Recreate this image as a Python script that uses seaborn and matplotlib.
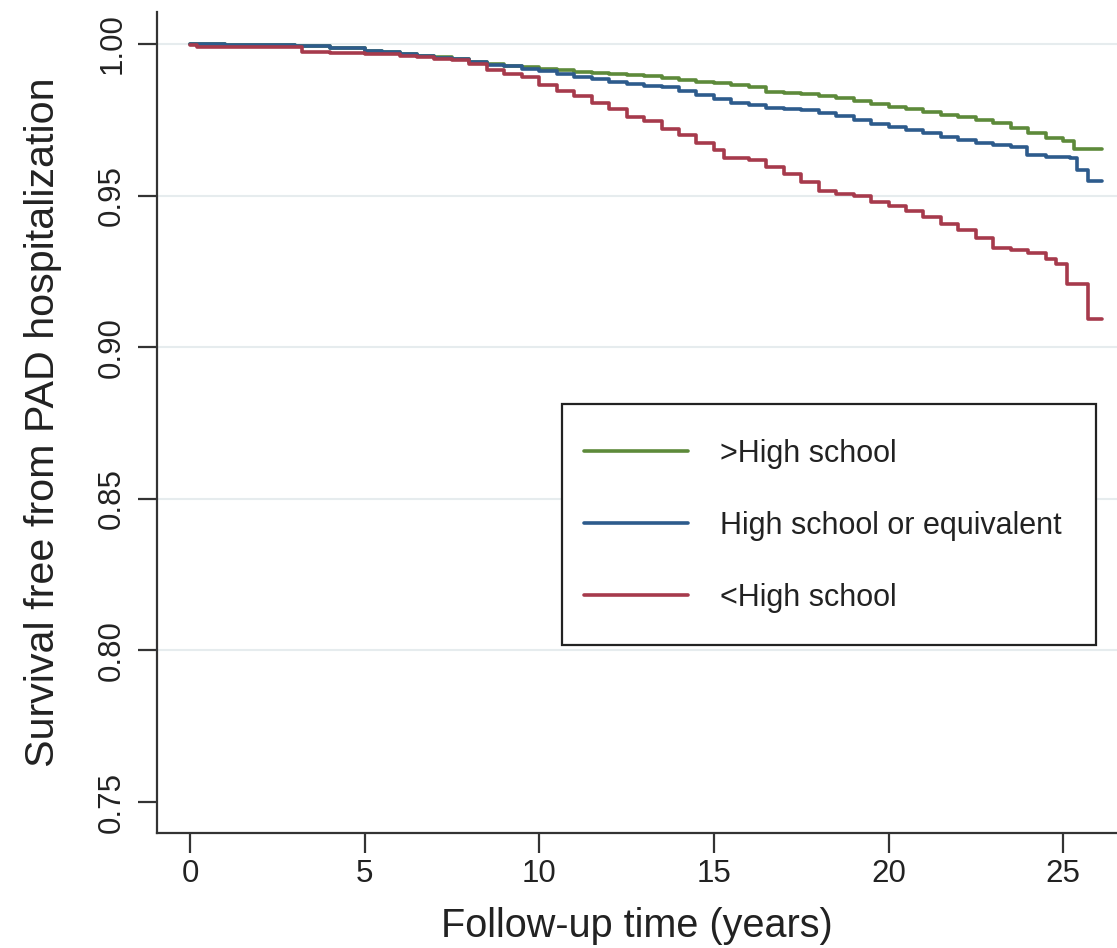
import numpy as np
import pandas as pd
import matplotlib
matplotlib.use("Agg")
import matplotlib.pyplot as plt
import seaborn as sns

# ---------------- data ----------------
groups = [">High school", "High school or equivalent", "<High school"]

time_gt_hs = [0, 1, 2, 3, 4, 5, 5.5, 6, 6.5, 7, 7.5, 8, 8.5, 9, 9.5, 10, 10.5, 11, 11.5, 12,
              12.5, 13, 13.5, 14, 14.5, 15, 15.5, 16, 16.5, 17, 17.5, 18, 18.5, 19, 19.5, 20,
              20.5, 21, 21.5, 22, 22.5, 23, 23.5, 24, 24.5, 25, 25.3, 26.1]
surv_gt_hs = [1.000, 0.9998, 0.9997, 0.9994, 0.9988, 0.9978, 0.9974, 0.9968, 0.9962, 0.9957,
              0.9952, 0.9942, 0.9934, 0.9928, 0.9923, 0.9919, 0.9913, 0.9909, 0.9905, 0.9902,
              0.9898, 0.9893, 0.9887, 0.9880, 0.9875, 0.9870, 0.9865, 0.9858, 0.9842, 0.9838,
              0.9834, 0.9830, 0.9822, 0.9812, 0.9802, 0.9792, 0.9785, 0.9776, 0.9767, 0.9758,
              0.9750, 0.9740, 0.9722, 0.9708, 0.9690, 0.9680, 0.9654, 0.9654]

time_hs = [0, 1, 2, 3, 4, 5, 5.5, 6, 6.5, 7, 7.5, 8, 8.5, 9, 9.5, 10, 10.5, 11, 11.5, 12,
           12.5, 13, 13.5, 14, 14.5, 15, 15.5, 16, 16.5, 17, 17.5, 18, 18.5, 19, 19.5, 20,
           20.5, 21, 21.5, 22, 22.5, 23, 23.5, 23.97, 24.5, 25.2, 25.4, 25.7, 26.1]
surv_hs = [1.000, 0.9998, 0.9996, 0.9993, 0.9986, 0.9977, 0.9972, 0.9966, 0.9960, 0.9955,
           0.9950, 0.9940, 0.9932, 0.9926, 0.9918, 0.9911, 0.9900, 0.9890, 0.9883, 0.9875,
           0.9868, 0.9863, 0.9858, 0.9846, 0.9832, 0.9818, 0.9805, 0.9798, 0.9790, 0.9786,
           0.9782, 0.9774, 0.9764, 0.9750, 0.9737, 0.9726, 0.9716, 0.9706, 0.9694, 0.9683,
           0.9672, 0.9666, 0.9660, 0.9634, 0.9628, 0.9624, 0.9584, 0.9548, 0.9548]

time_lt_hs = [0, 0.2, 1, 2, 3, 3.2, 4, 5, 5.5, 6, 6.5, 7, 7.5, 8, 8.5, 9, 9.5, 10, 10.5, 11,
              11.5, 12, 12.5, 13, 13.5, 14, 14.5, 15, 15.3, 16, 16.5, 17, 17.5, 18, 18.5, 19,
              19.5, 20, 20.5, 21, 21.5, 22, 22.5, 23, 23.5, 24, 24.5, 24.8, 25.1, 25.7, 26.1]
surv_lt_hs = [0.9997, 0.9990, 0.9990, 0.9990, 0.9989, 0.9972, 0.9970, 0.9968, 0.9966, 0.9962,
              0.9957, 0.9952, 0.9946, 0.9935, 0.9915, 0.9902, 0.9890, 0.9866, 0.9845, 0.9828,
              0.9805, 0.9785, 0.9760, 0.9745, 0.9720, 0.9700, 0.9675, 0.9650, 0.9624, 0.9617,
              0.9595, 0.9572, 0.9545, 0.9515, 0.9505, 0.9498, 0.9480, 0.9466, 0.9450, 0.9430,
              0.9405, 0.9385, 0.9360, 0.9327, 0.9322, 0.9312, 0.9290, 0.9275, 0.9208, 0.9093,
              0.9093]

x_ticks = [0, 5, 10, 15, 20, 25]
y_ticks = [0.75, 0.80, 0.85, 0.90, 0.95, 1.00]
y_tick_labels = ["0.75", "0.80", "0.85", "0.90", "0.95", "1.00"]

x_label = "Follow-up time (years)"
y_label = "Survival free from PAD hospitalization"

colors = {">High school": "#5d8a3a",
          "High school or equivalent": "#2d5b8c",
          "<High school": "#a63a4c"}

# ---------------- build long-form frame ----------------
frames = []
for g, t, s in zip(groups, [time_gt_hs, time_hs, time_lt_hs],
                   [surv_gt_hs, surv_hs, surv_lt_hs]):
    frames.append(pd.DataFrame({"time": t, "surv": s, "group": g}))
df = pd.concat(frames, ignore_index=True)

# ---------------- plot ----------------
sns.set_theme(style="white")
plt.rcParams["font.family"] = ["Liberation Sans", "DejaVu Sans"]
text_color = "#222222"

W, H = 1117, 948
fig = plt.figure(figsize=(W / 100, H / 100), dpi=100)
ax = fig.add_axes([157 / W, 1 - 833 / H, (W - 157) / W, (833 - 12) / H])

sns.lineplot(data=df, x="time", y="surv", hue="group", hue_order=groups,
             palette=colors, estimator=None, sort=False, drawstyle="steps-post",
             linewidth=2.6, ax=ax)

ax.set_xlim(-0.944, 26.54)
ax.set_ylim(0.73978, 1.01055)
ax.set_xticks(x_ticks)
ax.set_xticklabels([str(v) for v in x_ticks])
ax.set_yticks(y_ticks)
ax.set_yticklabels(y_tick_labels, rotation=90, va="center")

ax.set_axisbelow(True)
ax.yaxis.grid(True, color="#e6ecee", linewidth=1.5)
ax.xaxis.grid(False)
for tick in ax.yaxis.get_major_ticks():
    if abs(tick.get_loc() - 0.75) < 1e-9:
        tick.gridline.set_visible(False)

for side in ["top", "right"]:
    ax.spines[side].set_visible(False)
for side in ["left", "bottom"]:
    ax.spines[side].set_color("#333333")
    ax.spines[side].set_linewidth(1.6)

ax.tick_params(axis="x", length=14.5, width=1.6, color="#333333", pad=4.5,
               labelsize=22.5, labelcolor=text_color, bottom=True)
ax.tick_params(axis="y", length=13.5, width=1.6, color="#333333", pad=8,
               labelsize=22.5, labelcolor=text_color, left=True)

ax.set_xlabel(x_label, fontsize=28.5, color=text_color, labelpad=13)
ax.set_ylabel(y_label, fontsize=29.7, color=text_color, labelpad=25)

leg_fs = 22
leg_hh = 2.29
handles, labels = ax.get_legend_handles_labels()
leg = ax.legend(handles, labels, loc="upper left",
                bbox_to_anchor=(562 / W, 1 - 644 / H, (1096 - 562) / W, (644 - 404) / H),
                bbox_transform=fig.transFigure, mode="expand",
                fontsize=leg_fs, frameon=True, fancybox=False, framealpha=1,
                edgecolor="#222222", borderpad=0.716, labelspacing=0.62,
                handlelength=3.40, handleheight=leg_hh, handletextpad=1.05,
                borderaxespad=0)
leg.get_frame().set_linewidth(1.6)
# put the legend sample lines at the middle of the capital letters
shift = (0.15 * leg_hh + 0.245 - 0.358) * leg_fs
for line in leg.get_lines():
    line.set_linewidth(2.6)
    line.set_ydata(np.asarray(line.get_ydata()) - shift)
for txt in leg.get_texts():
    txt.set_color(text_color)

fig.savefig("out.png", dpi=100)
